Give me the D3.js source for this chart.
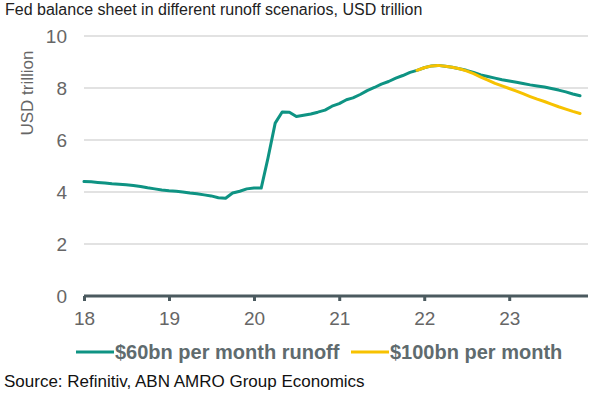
<!DOCTYPE html>
<html><head><meta charset="utf-8">
<script src="https://cdn.jsdelivr.net/npm/d3@7"></script>
<style>body{margin:0;background:#fff}svg{display:block}</style>
</head><body>
<script>
const title = "Fed balance sheet in different runoff scenarios, USD trillion";
const source = "Source: Refinitiv, ABN AMRO Group Economics";
const yTitle = "USD trillion";
const startMonth = [2018, 0];
// monthly values Jan 2018 .. Nov 2023, $60bn per month runoff (actual + scenario)
const runoff60 = [
 4.40,4.39,4.37,4.35,4.32,4.30,4.28,4.25,4.21,4.16,4.12,4.08,
 4.05,4.03,4.00,3.96,3.93,3.89,3.85,3.78,3.76,3.96,4.03,4.12,
 4.15,4.15,5.30,6.65,7.08,7.07,6.90,6.95,7.00,7.07,7.15,7.30,
 7.40,7.55,7.62,7.75,7.90,8.02,8.15,8.25,8.38,8.48,8.60,8.68,
 8.78,8.85,8.87,8.84,8.80,8.74,8.68,8.60,8.50,8.44,8.38,8.32,
 8.27,8.22,8.17,8.12,8.08,8.04,7.98,7.92,7.85,7.77,7.70];
// $100bn per month scenario, Dec 2021 .. Nov 2023
const start100 = 47;
const runoff100 = [
 8.68,8.78,8.85,8.87,8.84,8.80,8.74,8.66,8.55,8.42,8.30,8.18,
 8.08,7.98,7.88,7.78,7.67,7.57,7.48,7.38,7.28,7.19,7.10,7.02];
const yTicks = [0,2,4,6,8,10];
const xTickYears = [2018,2019,2020,2021,2022,2023];
const seriesNames = ["$60bn per month runoff", "$100bn per month"];
const colors = ["#0e9383", "#f7c200"];

const FONT = "Arial, Liberation Sans, sans-serif";
const W = 599, H = 398;
const svg = d3.select("body").append("svg").attr("width", W).attr("height", H);
const monthDate = i => new Date(startMonth[0], startMonth[1] + i, 1);
const x = d3.scaleTime().domain([new Date(2018,0,1), new Date(2023,11,1)]).range([84, 587]);
const y = d3.scaleLinear().domain([0,10]).range([296, 36]);

svg.append("text").attr("x", 5).attr("y", 15).attr("font-family",FONT)
  .attr("font-size", 16).attr("fill", "#222").text(title);

// gridlines
svg.append("g").selectAll("line").data(yTicks.filter(d=>d>0)).join("line")
  .attr("x1", 84).attr("x2", 588).attr("y1", d=>y(d)).attr("y2", d=>y(d))
  .attr("stroke", "#d9d9d9").attr("stroke-width", 1.5);

// y axis labels
const yAxis = d3.axisLeft(y).tickValues(yTicks).tickSize(0).tickPadding(0).tickFormat(d3.format("d"));
const gy = svg.append("g").attr("transform", "translate(67,0)").call(yAxis);
gy.select(".domain").remove();
gy.selectAll("text").attr("font-family",FONT).attr("font-size", 19).attr("fill", "#666");

svg.append("text").attr("transform", "translate(33,93) rotate(-90)").attr("text-anchor","middle")
  .attr("font-family",FONT).attr("font-size", 17).attr("fill", "#666").text(yTitle);

// x axis
const xAxis = d3.axisBottom(x).tickValues(xTickYears.map(v=>new Date(v,0,1))).tickSize(5).tickPadding(11)
  .tickFormat(d3.timeFormat("%y"));
const gx = svg.append("g").attr("transform", `translate(0,${y(0)})`).call(xAxis);
gx.select(".domain").attr("d", "M84,0H588").attr("stroke", "#4b5a5f").attr("stroke-width", 3);
gx.selectAll(".tick line").attr("stroke", "#4b5a5f").attr("stroke-width", 3);
gx.selectAll("text").attr("font-family",FONT).attr("font-size", 19).attr("fill", "#666");

const line = d3.line().x(d=>x(d[0])).y(d=>y(d[1]));
const d60 = runoff60.map((v,i)=>[monthDate(i), v]);
const d100 = runoff100.map((v,i)=>[monthDate(start100+i), v]);
svg.append("path").attr("d", line(d60)).attr("fill","none").attr("stroke", colors[0]).attr("stroke-width", 3).attr("stroke-linejoin","round").attr("stroke-linecap","round");
svg.append("path").attr("d", line(d100)).attr("fill","none").attr("stroke", colors[1]).attr("stroke-width", 3).attr("stroke-linejoin","round").attr("stroke-linecap","round");

// legend
const lg = svg.append("g").attr("font-family",FONT).attr("font-size", 20).attr("font-weight","bold").attr("fill","#5f6b6e");
const legendPos = [[76,114],[351,389]];
seriesNames.forEach((n,i)=>{
  lg.append("line").attr("x1", legendPos[i][0]).attr("x2", legendPos[i][1]).attr("y1", 352).attr("y2", 352).attr("stroke", colors[i]).attr("stroke-width", 3);
  lg.append("text").attr("x", legendPos[i][1]+1).attr("y", 359).text(n);
});

svg.append("text").attr("x", 4).attr("y", 387).attr("font-family",FONT)
  .attr("font-size", 17).attr("fill", "#111").text(source);
</script>
</body></html>
